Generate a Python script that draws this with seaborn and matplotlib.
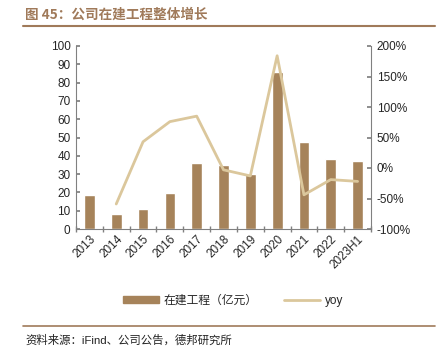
import numpy as np
import pandas as pd
import matplotlib
matplotlib.use("Agg")
import matplotlib.pyplot as plt
import seaborn as sns
from matplotlib.lines import Line2D
from matplotlib.patches import Patch

# data
years = ["2013", "2014", "2015", "2016", "2017", "2018", "2019",
         "2020", "2021", "2022", "2023H1"]
cip = [18.7, 8.0, 11.1, 19.7, 36.0, 35.0, 30.0, 85.6, 47.4, 38.4, 37.0]
yoy = [np.nan, -59, 43, 76, 85, -3, -13, 184, -44, -19, -22]

BAR = "#a6835a"
LINE = "#dbc79c"
TITLE = "#a07a5a"

sns.set_theme(style="white")
plt.rcParams["font.family"] = ["Liberation Sans", "Noto Sans CJK SC", "DejaVu Sans"]

df = pd.DataFrame({"year": years, "cip": cip, "yoy": yoy})

fig = plt.figure(figsize=(4.4, 3.62), dpi=100)
ax = fig.add_axes([76 / 440, 1 - 229 / 362, 295 / 440, 183 / 362])

sns.barplot(data=df, x="year", y="cip", color=BAR, width=0.4,
            saturation=1, ax=ax)
ax.set_xlim(-0.5, len(years) - 0.5)
ax.set_ylim(0, 100)
ax.set_yticks(range(0, 101, 10))
ax.set_xlabel("")
ax.set_ylabel("")

ax2 = ax.twinx()
sns.lineplot(data=df.dropna(), x="year", y="yoy", color=LINE, linewidth=2,
             ax=ax2)
ax2.set_ylim(-100, 200)
ax2.set_yticks(range(-100, 201, 50))
ax2.set_yticklabels([f"{v}%" for v in range(-100, 201, 50)])
ax2.set_ylabel("")
ax.set_xlim(-0.5, len(years) - 0.5)

for a in (ax, ax2):
    for s in a.spines.values():
        s.set_visible(False)
ax.spines["left"].set_visible(True)
ax.spines["bottom"].set_visible(True)
ax2.spines["right"].set_visible(True)
for s in (ax.spines["left"], ax.spines["bottom"], ax2.spines["right"]):
    s.set_color("#808080")
    s.set_linewidth(0.8)

ax.tick_params(axis="y", direction="in", length=3, color="#808080",
               labelsize=8.5, pad=4, left=True)
ax2.tick_params(axis="y", direction="in", length=3, color="#808080",
                labelsize=8.5, pad=4, right=True)
ax.set_xticks(range(len(years)))
ax.set_xticklabels(years, rotation=45, ha="right", rotation_mode="anchor",
                   fontsize=8.5)
ax.tick_params(axis="x", length=0, pad=3)
# boundary ticks between categories
ax.set_xticks(np.arange(-0.5, len(years), 1), minor=True)
ax.tick_params(axis="x", which="minor", direction="inout", length=4,
               color="#808080", bottom=True)

# title and rules
fig.text(25 / 440, 1 - 15 / 362, "图 45：公司在建工程整体增长", color=TITLE,
         fontsize=9.8, fontweight="bold", va="center",
         family=["Noto Sans CJK SC", "DejaVu Sans"])
fig.add_artist(Line2D([23 / 440, 435 / 440], [1 - 26 / 362, 1 - 26 / 362],
                      color=TITLE, linewidth=1.5))
fig.add_artist(Line2D([23 / 440, 435 / 440], [1 - 326 / 362, 1 - 326 / 362],
                      color=TITLE, linewidth=1.2))
fig.text(25 / 440, 1 - 340 / 362, "资料来源：iFind、公司公告，德邦研究所",
         fontsize=8.2, va="center", color="#222222",
         family=["Liberation Sans", "Noto Sans CJK SC", "DejaVu Sans"])

handles = [Patch(facecolor=BAR, edgecolor=BAR, label="在建工程（亿元）"),
           Line2D([0], [0], color=LINE, linewidth=2, label="yoy")]
leg = fig.legend(handles=handles, loc="center", ncol=2, frameon=False,
                 bbox_to_anchor=(233 / 440, 1 - 301 / 362),
                 handlelength=3.0, handleheight=0.5, columnspacing=2.3,
                 handletextpad=0.4,
                 prop={"family": ["Liberation Sans", "Noto Sans CJK SC",
                                  "DejaVu Sans"], "size": 8.5})

fig.savefig("out.png", dpi=100)
